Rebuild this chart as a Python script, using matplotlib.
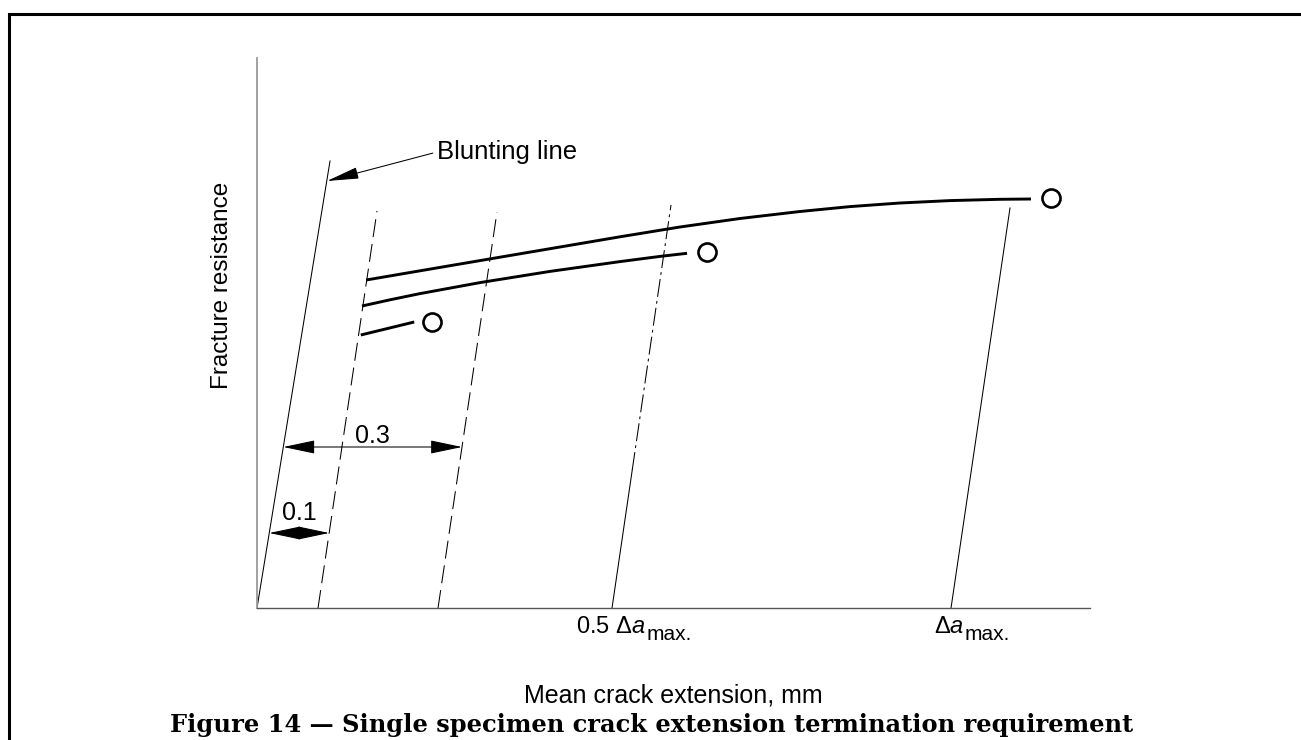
import numpy as np
import matplotlib
matplotlib.use('Agg')
import matplotlib.pyplot as plt
from matplotlib.lines import Line2D

plt.rcParams['font.family'] = ['Liberation Sans', 'DejaVu Sans']
plt.rcParams['mathtext.fontset'] = 'custom'
plt.rcParams['mathtext.rm'] = 'Liberation Sans'
plt.rcParams['mathtext.it'] = 'Liberation Sans:italic'
plt.rcParams['lines.scale_dashes'] = False

# x: crack extension (mm), y: fracture resistance (arbitrary units)
x_max, y_max = 1.388, 5.50

# blunting line and offset / exclusion lines (bottom point, top point)
blunt_x = [0.0, 0.1217]
blunt_y = [0.0, 4.47]
off01_x = [0.1017, 0.2000]
off01_y = [0.0, 3.97]
off03_x = [0.3017, 0.4000]
off03_y = [0.0, 3.96]
half_x = [0.5917, 0.6254, 0.6900]      # 0.5 da_max line, solid then dash-dot
half_y = [0.0, 1.38, 4.03]
damax_x = [1.1567, 1.2550]
damax_y = [0.0, 4.00]

# R-curves of the three specimens
r1_x = [0.182, 0.2717, 0.405, 0.4883, 0.605, 0.705, 0.805, 0.905, 0.9883, 1.0717, 1.155, 1.2383, 1.290]
r1_y = [3.28, 3.372, 3.508, 3.593, 3.712, 3.81, 3.895, 3.965, 4.014, 4.05, 4.074, 4.087, 4.09]
r2_x = [0.175, 0.2217, 0.2717, 0.3717, 0.4883, 0.605, 0.6717, 0.7167]
r2_y = [3.02, 3.082, 3.144, 3.254, 3.366, 3.464, 3.516, 3.547]
r3_x = [0.173, 0.262]
r3_y = [2.73, 2.86]
# termination points
end_x = [1.323, 0.750, 0.292]
end_y = [4.10, 3.56, 2.86]

fig = plt.figure(figsize=(13.01, 7.40), dpi=100)
W, H = 1301, 740
ax = fig.add_axes([257 / W, (H - 608) / H, x_max * 600 / W, 550 / H])
ax.set_xlim(0, x_max)
ax.set_ylim(0, y_max)
ax.set_xticks([])
ax.set_yticks([])
ax.spines['top'].set_visible(False)
ax.spines['right'].set_visible(False)
ax.spines['left'].set_color('#9a9a9a')
ax.spines['left'].set_linewidth(1.3)
ax.spines['bottom'].set_color('#555555')
ax.spines['bottom'].set_linewidth(1.0)

thin = 0.75
ax.plot(blunt_x, blunt_y, color='black', lw=thin)
ax.plot(off01_x, off01_y, color='black', lw=thin, dashes=(13, 5))
ax.plot(off03_x, off03_y, color='black', lw=thin, dashes=(13, 5))
ax.plot(half_x[:2], half_y[:2], color='black', lw=thin)
ax.plot(half_x[1:], half_y[1:], color='black', lw=thin, dashes=(13, 3, 2, 3))
ax.plot(damax_x, damax_y, color='black', lw=thin)

for xs, ys in [(r1_x, r1_y), (r2_x, r2_y), (r3_x, r3_y)]:
    ax.plot(xs, ys, color='black', lw=2.1, solid_capstyle='butt', solid_joinstyle='round')
ax.plot(end_x, end_y, ls='none', marker='o', ms=13, mfc='white', mec='black', mew=1.9)


def x_on(line_x, line_y, y):
    return line_x[0] + (line_x[-1] - line_x[0]) * y / line_y[-1]


# dimension arrows
arr = dict(arrowstyle='<|-|>,head_length=2.0,head_width=0.42', color='black',
           lw=thin, mutation_scale=10, shrinkA=0, shrinkB=0)
y3 = 1.61
ax.annotate('', xy=(x_on(blunt_x, blunt_y, y3), y3), xytext=(x_on(off03_x, off03_y, y3), y3), arrowprops=arr)
ax.text(0.192, 1.72, '0.3', fontsize=18, ha='center', va='center')
y1 = 0.75
ax.annotate('', xy=(x_on(blunt_x, blunt_y, y1), y1), xytext=(x_on(off01_x, off01_y, y1), y1), arrowprops=arr)
ax.text(0.070, 0.95, '0.1', fontsize=18, ha='center', va='center')

ax.annotate('Blunting line', xy=(0.1167, 4.27), xytext=(0.30, 4.56), fontsize=18.5,
            ha='left', va='center',
            arrowprops=dict(arrowstyle='-|>,head_length=2.0,head_width=0.36', color='black',
                            lw=thin, mutation_scale=10, shrinkA=1, shrinkB=0,
                            relpos=(0, 0.5)))

# x position labels: "max." sits lowered after the delta-a
lab1 = ax.text(0.532, -0.25, r'0.5 $\Delta\mathit{a}$', fontsize=17, ha='left', va='baseline', clip_on=False)
lab2 = ax.text(1.128, -0.25, r'$\Delta\mathit{a}$', fontsize=17, ha='left', va='baseline', clip_on=False)

fig.text(222 / W, 1 - 285 / H, 'Fracture resistance', fontsize=17.5, rotation=90, ha='center', va='center')
fig.text(673 / W, 1 - 695 / H, 'Mean crack extension, mm', fontsize=18, ha='center', va='center')
cap = fig.text(652 / W, 1 - 725 / H, 'Figure 14 \u2014 Single specimen crack extension termination requirement',
               fontsize=15, fontfamily='DejaVu Serif', fontweight='bold', ha='center', va='center')

fig.canvas.draw()
# fit caption width to the page
w = cap.get_window_extent().width
cap.set_fontsize(15 * 965 / w)
for lab in (lab1, lab2):
    bb = lab.get_window_extent()
    base = ax.transData.transform((0, -0.25))[1]
    fig.text((bb.x1 + 1) / W, (base - 7) / H, 'max.', fontsize=15, ha='left', va='baseline')

# page frame
fig.add_artist(Line2D([9 / W, 9 / W, 1.0], [0.0, 1 - 14 / H, 1 - 14 / H], color='black', lw=2.2,
                      transform=fig.transFigure, solid_joinstyle='miter'))

fig.savefig('out.png', dpi=100)
